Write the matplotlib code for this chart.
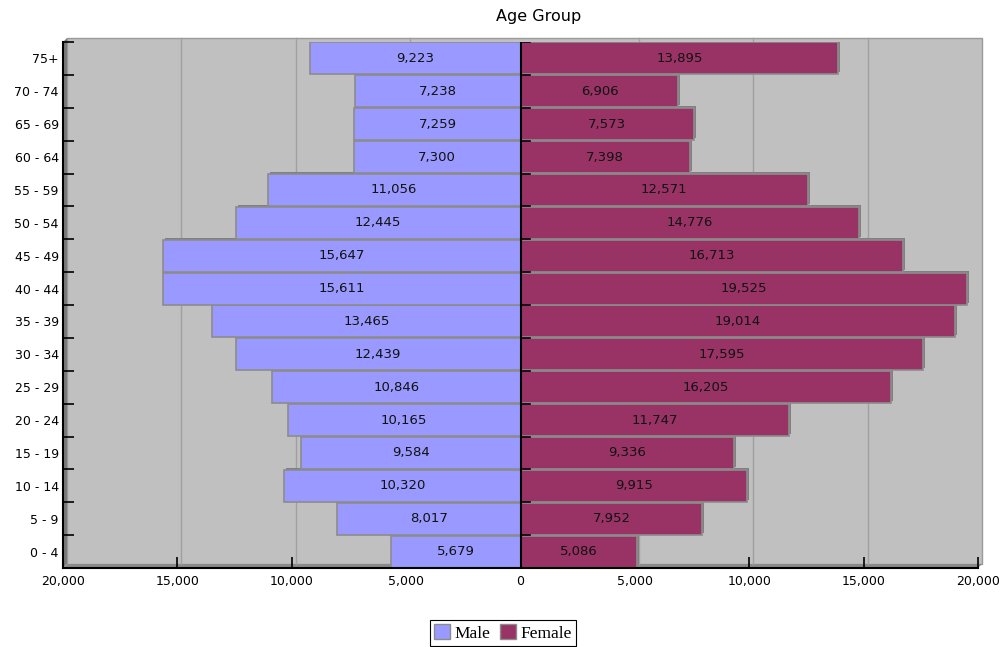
import matplotlib
matplotlib.use("Agg")
import matplotlib.pyplot as plt
import matplotlib.transforms as mtransforms
from matplotlib.patches import Rectangle, Polygon, Patch
from matplotlib.ticker import FuncFormatter, FixedLocator
import numpy as np

age_groups = ["0 - 4", "5 - 9", "10 - 14", "15 - 19", "20 - 24", "25 - 29", "30 - 34",
              "35 - 39", "40 - 44", "45 - 49", "50 - 54", "55 - 59", "60 - 64",
              "65 - 69", "70 - 74", "75+"]
male = [5679, 8017, 10320, 9584, 10165, 10846, 12439, 13465, 15611, 15647,
        12445, 11056, 7300, 7259, 7238, 9223]
female = [5086, 7952, 9915, 9336, 11747, 16205, 17595, 19014, 19525, 16713,
          14776, 12571, 7398, 7573, 6906, 13895]
x_ticks = [-20000, -15000, -10000, -5000, 0, 5000, 10000, 15000, 20000]

MALE_C = "#9999FF"
FEMALE_C = "#993366"
WALL_C = "#C0C0C0"

W, H, DPI = 1002, 647, 100
fig = plt.figure(figsize=(W / DPI, H / DPI), dpi=DPI)
ax = fig.add_axes([63 / W, 1 - 568 / H, 915 / W, 526 / H])
ax.set_facecolor("none")
ax.set_xlim(-20000, 20000)
ax.set_ylim(-0.5, len(age_groups) - 0.5)

# 3D depth offset
d = 4 / DPI
off = mtransforms.ScaledTranslation(d, d, fig.dpi_scale_trans)
off_bar = mtransforms.ScaledTranslation(2 / DPI, 2 / DPI, fig.dpi_scale_trans)

# wall
wall = Rectangle((0, 0), 1, 1, transform=ax.transAxes + off, facecolor=WALL_C,
                 edgecolor="#9a9a9a", lw=1.0, zorder=0, clip_on=False)
ax.add_patch(wall)
px = 1 / 915.0
py = 1 / 526.0
floor = Polygon([(0, 0), (1, 0), (1 + 4 * px, 4 * py), (4 * px, 4 * py)],
                closed=True, transform=ax.transAxes, facecolor="#8a8a8a",
                edgecolor="none", zorder=0.5, clip_on=False)
side = Polygon([(0, 0), (4 * px, 4 * py), (4 * px, 1 + 4 * py), (0, 1)],
               closed=True, transform=ax.transAxes, facecolor="#7a7a7a",
               edgecolor="none", zorder=0.5, clip_on=False)
ax.add_patch(floor)
ax.add_patch(side)

# gridlines on the wall
for xv in x_ticks[1:-1]:
    if xv == 0:
        continue
    ax.plot([xv, xv], [-0.5, len(age_groups) - 0.5], color="#a0a0a0", lw=1.0,
            transform=ax.transData + off, zorder=1, clip_on=False)

y = np.arange(len(age_groups))
neg_male = [-v for v in male]
# extrusion shadows
ax.barh(y, neg_male, height=0.97, color="#808080", edgecolor="none",
        transform=ax.transData + off_bar, zorder=2)
ax.barh(y, female, height=0.97, color="#808080", edgecolor="none",
        transform=ax.transData + off_bar, zorder=2)
bm = ax.barh(y, neg_male, height=0.97, color=MALE_C, edgecolor="#8c8c8c",
             lw=1.2, zorder=3)
bf = ax.barh(y, female, height=0.97, color=FEMALE_C, edgecolor="#8c8c8c",
             lw=1.2, zorder=3)

for yi, m, f in zip(y, male, female):
    ax.text(-m / 2, yi, f"{m:,}", ha="center", va="center", fontsize=9.5,
            color="#111111", zorder=5)
    ax.text(f / 2, yi, f"{f:,}", ha="center", va="center", fontsize=9.5,
            color="#111111", zorder=5)

# center axis at zero
ax.axvline(0, color="black", lw=1.5, zorder=4)
for b in np.arange(len(age_groups) + 1) - 0.5:
    ax.plot([0, 400], [b, b], color="black", lw=1.2, zorder=4)

# spines
for s in ["top", "right"]:
    ax.spines[s].set_visible(False)
for s in ["left", "bottom"]:
    ax.spines[s].set_color("black")
    ax.spines[s].set_linewidth(1.5)
    ax.spines[s].set_zorder(6)

ax.set_xticks(x_ticks)
ax.xaxis.set_major_formatter(FuncFormatter(lambda v, p: f"{abs(int(v)):,}"))
ax.tick_params(axis="x", direction="in", length=8, width=1.2, pad=5,
               labelsize=9, colors="black")

ax.yaxis.set_major_locator(FixedLocator(list(np.arange(len(age_groups) + 1) - 0.5)))
ax.yaxis.set_minor_locator(FixedLocator(list(y)))
ax.set_yticklabels([], minor=False)
ax.set_yticks(y, age_groups, minor=True)
ax.tick_params(axis="y", which="major", direction="in", length=8, width=1.2)
ax.tick_params(axis="y", which="minor", length=0, pad=3, labelsize=9)

fig.text(539 / W, 1 - 16 / H, "Age Group", ha="center", va="center", fontsize=11.5)

handles = [Patch(facecolor=MALE_C, edgecolor="#8c8c8c", label="Male"),
           Patch(facecolor=FEMALE_C, edgecolor="#8c8c8c", label="Female")]
leg = fig.legend(handles=handles, loc="center", bbox_to_anchor=(503 / W, 1 - 633 / H),
                 ncol=2, frameon=True, fancybox=False, edgecolor="black",
                 framealpha=1, handlelength=0.9, handleheight=0.9,
                 handletextpad=0.25, columnspacing=0.6, borderpad=0.25,
                 borderaxespad=0, prop={"family": "Liberation Serif", "size": 12.5})
leg.get_frame().set_linewidth(0.8)

fig.savefig("out.png", dpi=DPI)
